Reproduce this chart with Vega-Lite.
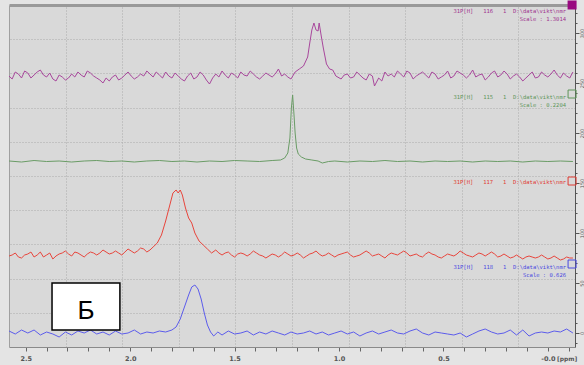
{
"$schema": "https://vega.github.io/schema/vega-lite/v6.json",
"width": 566, "height": 342,
"autosize": {"type": "none"},
"padding": {"left": 9, "top": 5, "right": 9, "bottom": 18},
"background": "#e4e4e4",
"config": {"view": {"fill": "#d9d9d9", "stroke": null}},
"resolve": {"axis": {"x": "independent", "y": "independent"}},
"layer": [
{
"data": {"values": [
{"exp":"116","ppm":2.58,"i":257},{"exp":"116","ppm":2.55,"i":261},{"exp":"116","ppm":2.52,"i":255},{"exp":"116","ppm":2.49,"i":260},{"exp":"116","ppm":2.46,"i":258},{"exp":"116","ppm":2.43,"i":263},{"exp":"116","ppm":2.40,"i":256},{"exp":"116","ppm":2.37,"i":254},{"exp":"116","ppm":2.34,"i":258},{"exp":"116","ppm":2.31,"i":253},{"exp":"116","ppm":2.28,"i":259},{"exp":"116","ppm":2.25,"i":261},{"exp":"116","ppm":2.22,"i":256},{"exp":"116","ppm":2.19,"i":260},{"exp":"116","ppm":2.16,"i":255},{"exp":"116","ppm":2.13,"i":250},{"exp":"116","ppm":2.10,"i":252},{"exp":"116","ppm":2.07,"i":258},{"exp":"116","ppm":2.04,"i":255},{"exp":"116","ppm":2.01,"i":261},{"exp":"116","ppm":1.98,"i":254},{"exp":"116","ppm":1.95,"i":259},{"exp":"116","ppm":1.92,"i":262},{"exp":"116","ppm":1.89,"i":256},{"exp":"116","ppm":1.86,"i":258},{"exp":"116","ppm":1.83,"i":261},{"exp":"116","ppm":1.80,"i":255},{"exp":"116","ppm":1.77,"i":257},{"exp":"116","ppm":1.74,"i":252},{"exp":"116","ppm":1.71,"i":260},{"exp":"116","ppm":1.68,"i":256},{"exp":"116","ppm":1.65,"i":258},{"exp":"116","ppm":1.62,"i":249},{"exp":"116","ppm":1.59,"i":259},{"exp":"116","ppm":1.56,"i":262},{"exp":"116","ppm":1.53,"i":255},{"exp":"116","ppm":1.50,"i":258},{"exp":"116","ppm":1.47,"i":261},{"exp":"116","ppm":1.44,"i":257},{"exp":"116","ppm":1.41,"i":259},{"exp":"116","ppm":1.38,"i":254},{"exp":"116","ppm":1.35,"i":260},{"exp":"116","ppm":1.32,"i":256},{"exp":"116","ppm":1.29,"i":264},{"exp":"116","ppm":1.26,"i":259},{"exp":"116","ppm":1.23,"i":254},{"exp":"116","ppm":1.21,"i":261},{"exp":"116","ppm":1.19,"i":264},{"exp":"116","ppm":1.17,"i":267},{"exp":"116","ppm":1.15,"i":276},{"exp":"116","ppm":1.14,"i":290},{"exp":"116","ppm":1.13,"i":303},{"exp":"116","ppm":1.12,"i":310},{"exp":"116","ppm":1.11,"i":303},{"exp":"116","ppm":1.10,"i":302},{"exp":"116","ppm":1.095,"i":310},{"exp":"116","ppm":1.085,"i":297},{"exp":"116","ppm":1.075,"i":285},{"exp":"116","ppm":1.06,"i":269},{"exp":"116","ppm":1.045,"i":264},{"exp":"116","ppm":1.03,"i":263},{"exp":"116","ppm":1.015,"i":257},{"exp":"116","ppm":0.99,"i":254},{"exp":"116","ppm":0.96,"i":259},{"exp":"116","ppm":0.93,"i":256},{"exp":"116","ppm":0.90,"i":258},{"exp":"116","ppm":0.87,"i":253},{"exp":"116","ppm":0.84,"i":257},{"exp":"116","ppm":0.83,"i":247},{"exp":"116","ppm":0.81,"i":255},{"exp":"116","ppm":0.78,"i":261},{"exp":"116","ppm":0.75,"i":259},{"exp":"116","ppm":0.72,"i":262},{"exp":"116","ppm":0.69,"i":256},{"exp":"116","ppm":0.66,"i":260},{"exp":"116","ppm":0.63,"i":257},{"exp":"116","ppm":0.60,"i":261},{"exp":"116","ppm":0.57,"i":255},{"exp":"116","ppm":0.54,"i":259},{"exp":"116","ppm":0.51,"i":256},{"exp":"116","ppm":0.48,"i":262},{"exp":"116","ppm":0.45,"i":257},{"exp":"116","ppm":0.42,"i":260},{"exp":"116","ppm":0.39,"i":255},{"exp":"116","ppm":0.36,"i":263},{"exp":"116","ppm":0.33,"i":258},{"exp":"116","ppm":0.30,"i":253},{"exp":"116","ppm":0.27,"i":260},{"exp":"116","ppm":0.24,"i":256},{"exp":"116","ppm":0.21,"i":262},{"exp":"116","ppm":0.18,"i":254},{"exp":"116","ppm":0.15,"i":259},{"exp":"116","ppm":0.12,"i":252},{"exp":"116","ppm":0.09,"i":258},{"exp":"116","ppm":0.06,"i":255},{"exp":"116","ppm":0.03,"i":261},{"exp":"116","ppm":0.00,"i":256},{"exp":"116","ppm":-0.03,"i":263},{"exp":"116","ppm":-0.06,"i":255},{"exp":"116","ppm":-0.09,"i":257},{"exp":"116","ppm":-0.12,"i":261},
{"exp":"116","ppm":2.565,"i":254},{"exp":"116","ppm":2.535,"i":259},{"exp":"116","ppm":2.505,"i":262},{"exp":"116","ppm":2.475,"i":255},{"exp":"116","ppm":2.445,"i":261},{"exp":"116","ppm":2.415,"i":258},{"exp":"116","ppm":2.385,"i":260},{"exp":"116","ppm":2.355,"i":252},{"exp":"116","ppm":2.325,"i":256},{"exp":"116","ppm":2.295,"i":255},{"exp":"116","ppm":2.265,"i":256},{"exp":"116","ppm":2.235,"i":258},{"exp":"116","ppm":2.205,"i":262},{"exp":"116","ppm":2.175,"i":257},{"exp":"116","ppm":2.145,"i":253},{"exp":"116","ppm":2.115,"i":255},{"exp":"116","ppm":2.085,"i":256},{"exp":"116","ppm":2.055,"i":253},{"exp":"116","ppm":2.025,"i":258},{"exp":"116","ppm":1.995,"i":257},{"exp":"116","ppm":1.965,"i":256},{"exp":"116","ppm":1.935,"i":257},{"exp":"116","ppm":1.905,"i":259},{"exp":"116","ppm":1.875,"i":261},{"exp":"116","ppm":1.845,"i":255},{"exp":"116","ppm":1.815,"i":257},{"exp":"116","ppm":1.785,"i":260},{"exp":"116","ppm":1.755,"i":254},{"exp":"116","ppm":1.725,"i":257},{"exp":"116","ppm":1.695,"i":254},{"exp":"116","ppm":1.665,"i":261},{"exp":"116","ppm":1.635,"i":253},{"exp":"116","ppm":1.605,"i":255},{"exp":"116","ppm":1.575,"i":256},{"exp":"116","ppm":1.545,"i":258},{"exp":"116","ppm":1.515,"i":260},{"exp":"116","ppm":1.485,"i":255},{"exp":"116","ppm":1.455,"i":258},{"exp":"116","ppm":1.425,"i":262},{"exp":"116","ppm":1.395,"i":256},{"exp":"116","ppm":1.365,"i":257},{"exp":"116","ppm":1.335,"i":258},{"exp":"116","ppm":1.305,"i":259},{"exp":"116","ppm":1.275,"i":257},{"exp":"116","ppm":1.245,"i":256},
{"exp":"116","ppm":0.975,"i":258},{"exp":"116","ppm":0.945,"i":255},{"exp":"116","ppm":0.915,"i":261},{"exp":"116","ppm":0.885,"i":255},{"exp":"116","ppm":0.855,"i":259},{"exp":"116","ppm":0.795,"i":252},{"exp":"116","ppm":0.765,"i":257},{"exp":"116","ppm":0.735,"i":256},{"exp":"116","ppm":0.705,"i":259},{"exp":"116","ppm":0.675,"i":262},{"exp":"116","ppm":0.645,"i":254},{"exp":"116","ppm":0.615,"i":259},{"exp":"116","ppm":0.585,"i":258},{"exp":"116","ppm":0.555,"i":261},{"exp":"116","ppm":0.525,"i":254},{"exp":"116","ppm":0.495,"i":258},{"exp":"116","ppm":0.465,"i":255},{"exp":"116","ppm":0.435,"i":262},{"exp":"116","ppm":0.405,"i":258},{"exp":"116","ppm":0.375,"i":258},{"exp":"116","ppm":0.345,"i":256},{"exp":"116","ppm":0.315,"i":259},{"exp":"116","ppm":0.285,"i":256},{"exp":"116","ppm":0.255,"i":262},{"exp":"116","ppm":0.225,"i":258},{"exp":"116","ppm":0.195,"i":259},{"exp":"116","ppm":0.165,"i":257},{"exp":"116","ppm":0.135,"i":256},{"exp":"116","ppm":0.105,"i":255},{"exp":"116","ppm":0.075,"i":261},{"exp":"116","ppm":0.045,"i":256},{"exp":"116","ppm":0.015,"i":258},{"exp":"116","ppm":-0.015,"i":259},{"exp":"116","ppm":-0.045,"i":258},{"exp":"116","ppm":-0.075,"i":260},{"exp":"116","ppm":-0.105,"i":255},
{"exp":"115","ppm":2.58,"i":172},{"exp":"115","ppm":2.52,"i":171},{"exp":"115","ppm":2.46,"i":172.5},{"exp":"115","ppm":2.40,"i":171.5},{"exp":"115","ppm":2.34,"i":172},{"exp":"115","ppm":2.28,"i":171},{"exp":"115","ppm":2.22,"i":172},{"exp":"115","ppm":2.16,"i":172.5},{"exp":"115","ppm":2.10,"i":171.5},{"exp":"115","ppm":2.04,"i":172},{"exp":"115","ppm":1.98,"i":171},{"exp":"115","ppm":1.92,"i":172},{"exp":"115","ppm":1.86,"i":172.5},{"exp":"115","ppm":1.80,"i":171.5},{"exp":"115","ppm":1.74,"i":172},{"exp":"115","ppm":1.68,"i":171},{"exp":"115","ppm":1.62,"i":172},{"exp":"115","ppm":1.56,"i":171.5},{"exp":"115","ppm":1.50,"i":172.5},{"exp":"115","ppm":1.44,"i":172},{"exp":"115","ppm":1.38,"i":171.5},{"exp":"115","ppm":1.32,"i":172.5},{"exp":"115","ppm":1.28,"i":173},{"exp":"115","ppm":1.26,"i":175},{"exp":"115","ppm":1.245,"i":180},{"exp":"115","ppm":1.235,"i":195},{"exp":"115","ppm":1.228,"i":225},{"exp":"115","ppm":1.222,"i":238},{"exp":"115","ppm":1.216,"i":220},{"exp":"115","ppm":1.21,"i":200},{"exp":"115","ppm":1.203,"i":185},{"exp":"115","ppm":1.195,"i":179},{"exp":"115","ppm":1.18,"i":176},{"exp":"115","ppm":1.16,"i":174},{"exp":"115","ppm":1.13,"i":173},{"exp":"115","ppm":1.10,"i":172},{"exp":"115","ppm":1.08,"i":170},{"exp":"115","ppm":1.05,"i":171.5},{"exp":"115","ppm":1.02,"i":172},{"exp":"115","ppm":0.96,"i":171},{"exp":"115","ppm":0.90,"i":172},{"exp":"115","ppm":0.84,"i":171.5},{"exp":"115","ppm":0.78,"i":172.5},{"exp":"115","ppm":0.72,"i":171.5},{"exp":"115","ppm":0.66,"i":172},{"exp":"115","ppm":0.60,"i":171},{"exp":"115","ppm":0.54,"i":172},{"exp":"115","ppm":0.48,"i":171.5},{"exp":"115","ppm":0.42,"i":172},{"exp":"115","ppm":0.36,"i":171},{"exp":"115","ppm":0.30,"i":172},{"exp":"115","ppm":0.24,"i":171.5},{"exp":"115","ppm":0.18,"i":172},{"exp":"115","ppm":0.12,"i":171},{"exp":"115","ppm":0.06,"i":172},{"exp":"115","ppm":0.00,"i":171.5},{"exp":"115","ppm":-0.06,"i":172},{"exp":"115","ppm":-0.12,"i":171.5},
{"exp":"117","ppm":2.58,"i":77},{"exp":"117","ppm":2.55,"i":80},{"exp":"117","ppm":2.52,"i":75},{"exp":"117","ppm":2.49,"i":79},{"exp":"117","ppm":2.46,"i":76},{"exp":"117","ppm":2.43,"i":81},{"exp":"117","ppm":2.40,"i":78},{"exp":"117","ppm":2.37,"i":74},{"exp":"117","ppm":2.34,"i":79},{"exp":"117","ppm":2.31,"i":82},{"exp":"117","ppm":2.28,"i":77},{"exp":"117","ppm":2.25,"i":80},{"exp":"117","ppm":2.22,"i":76},{"exp":"117","ppm":2.19,"i":81},{"exp":"117","ppm":2.16,"i":78},{"exp":"117","ppm":2.13,"i":83},{"exp":"117","ppm":2.10,"i":79},{"exp":"117","ppm":2.07,"i":82},{"exp":"117","ppm":2.04,"i":78},{"exp":"117","ppm":2.01,"i":84},{"exp":"117","ppm":1.98,"i":80},{"exp":"117","ppm":1.95,"i":85},{"exp":"117","ppm":1.92,"i":81},{"exp":"117","ppm":1.89,"i":86},{"exp":"117","ppm":1.87,"i":90},{"exp":"117","ppm":1.85,"i":98},{"exp":"117","ppm":1.83,"i":112},{"exp":"117","ppm":1.81,"i":128},{"exp":"117","ppm":1.795,"i":140},{"exp":"117","ppm":1.78,"i":143},{"exp":"117","ppm":1.77,"i":140},{"exp":"117","ppm":1.76,"i":143},{"exp":"117","ppm":1.75,"i":138},{"exp":"117","ppm":1.735,"i":125},{"exp":"117","ppm":1.72,"i":115},{"exp":"117","ppm":1.705,"i":110},{"exp":"117","ppm":1.69,"i":100},{"exp":"117","ppm":1.67,"i":92},{"exp":"117","ppm":1.65,"i":88},{"exp":"117","ppm":1.63,"i":84},{"exp":"117","ppm":1.61,"i":80},{"exp":"117","ppm":1.59,"i":83},{"exp":"117","ppm":1.56,"i":78},{"exp":"117","ppm":1.53,"i":81},{"exp":"117","ppm":1.50,"i":76},{"exp":"117","ppm":1.47,"i":80},{"exp":"117","ppm":1.44,"i":77},{"exp":"117","ppm":1.41,"i":82},{"exp":"117","ppm":1.38,"i":78},{"exp":"117","ppm":1.35,"i":75},{"exp":"117","ppm":1.32,"i":79},{"exp":"117","ppm":1.29,"i":76},{"exp":"117","ppm":1.26,"i":81},{"exp":"117","ppm":1.23,"i":77},{"exp":"117","ppm":1.20,"i":80},{"exp":"117","ppm":1.17,"i":75},{"exp":"117","ppm":1.14,"i":79},{"exp":"117","ppm":1.11,"i":82},{"exp":"117","ppm":1.08,"i":77},{"exp":"117","ppm":1.05,"i":80},{"exp":"117","ppm":1.02,"i":76},{"exp":"117","ppm":0.99,"i":79},{"exp":"117","ppm":0.96,"i":81},{"exp":"117","ppm":0.93,"i":76},{"exp":"117","ppm":0.90,"i":78},{"exp":"117","ppm":0.87,"i":82},{"exp":"117","ppm":0.84,"i":77},{"exp":"117","ppm":0.81,"i":79},{"exp":"117","ppm":0.78,"i":75},{"exp":"117","ppm":0.75,"i":80},{"exp":"117","ppm":0.72,"i":78},{"exp":"117","ppm":0.69,"i":82},{"exp":"117","ppm":0.66,"i":77},{"exp":"117","ppm":0.63,"i":79},{"exp":"117","ppm":0.60,"i":76},{"exp":"117","ppm":0.57,"i":81},{"exp":"117","ppm":0.54,"i":78},{"exp":"117","ppm":0.51,"i":75},{"exp":"117","ppm":0.48,"i":79},{"exp":"117","ppm":0.45,"i":77},{"exp":"117","ppm":0.42,"i":82},{"exp":"117","ppm":0.39,"i":78},{"exp":"117","ppm":0.36,"i":76},{"exp":"117","ppm":0.33,"i":80},{"exp":"117","ppm":0.30,"i":77},{"exp":"117","ppm":0.27,"i":81},{"exp":"117","ppm":0.24,"i":76},{"exp":"117","ppm":0.21,"i":79},{"exp":"117","ppm":0.18,"i":75},{"exp":"117","ppm":0.15,"i":78},{"exp":"117","ppm":0.12,"i":74},{"exp":"117","ppm":0.09,"i":77},{"exp":"117","ppm":0.06,"i":75},{"exp":"117","ppm":0.03,"i":78},{"exp":"117","ppm":0.00,"i":74},{"exp":"117","ppm":-0.03,"i":77},{"exp":"117","ppm":-0.06,"i":73},{"exp":"117","ppm":-0.09,"i":76},{"exp":"117","ppm":-0.12,"i":75},
{"exp":"117","ppm":2.565,"i":78},{"exp":"117","ppm":2.535,"i":76},{"exp":"117","ppm":2.505,"i":78},{"exp":"117","ppm":2.475,"i":81},{"exp":"117","ppm":2.445,"i":78},{"exp":"117","ppm":2.415,"i":76},{"exp":"117","ppm":2.385,"i":80},{"exp":"117","ppm":2.355,"i":77},{"exp":"117","ppm":2.325,"i":80},{"exp":"117","ppm":2.295,"i":79},{"exp":"117","ppm":2.265,"i":81},{"exp":"117","ppm":2.235,"i":78},{"exp":"117","ppm":2.205,"i":79},{"exp":"117","ppm":2.175,"i":80},{"exp":"117","ppm":2.145,"i":80},{"exp":"117","ppm":2.115,"i":81},{"exp":"117","ppm":2.085,"i":80},{"exp":"117","ppm":2.055,"i":80},{"exp":"117","ppm":2.025,"i":81},{"exp":"117","ppm":1.995,"i":82},{"exp":"117","ppm":1.965,"i":82},{"exp":"117","ppm":1.935,"i":84},{"exp":"117","ppm":1.905,"i":83},
{"exp":"117","ppm":1.575,"i":80},{"exp":"117","ppm":1.545,"i":80},{"exp":"117","ppm":1.515,"i":78},{"exp":"117","ppm":1.485,"i":79},{"exp":"117","ppm":1.455,"i":79},{"exp":"117","ppm":1.425,"i":79},{"exp":"117","ppm":1.395,"i":80},{"exp":"117","ppm":1.365,"i":77},{"exp":"117","ppm":1.335,"i":77},{"exp":"117","ppm":1.305,"i":78},{"exp":"117","ppm":1.275,"i":78},{"exp":"117","ppm":1.245,"i":79},{"exp":"117","ppm":1.215,"i":78},{"exp":"117","ppm":1.185,"i":78},{"exp":"117","ppm":1.155,"i":77},{"exp":"117","ppm":1.125,"i":80},{"exp":"117","ppm":1.095,"i":79},{"exp":"117","ppm":1.065,"i":78},{"exp":"117","ppm":1.035,"i":78},{"exp":"117","ppm":1.005,"i":78},{"exp":"117","ppm":0.975,"i":80},{"exp":"117","ppm":0.945,"i":78},{"exp":"117","ppm":0.915,"i":77},{"exp":"117","ppm":0.885,"i":80},{"exp":"117","ppm":0.855,"i":80},{"exp":"117","ppm":0.825,"i":78},{"exp":"117","ppm":0.795,"i":77},{"exp":"117","ppm":0.765,"i":78},{"exp":"117","ppm":0.735,"i":79},{"exp":"117","ppm":0.705,"i":80},{"exp":"117","ppm":0.675,"i":80},{"exp":"117","ppm":0.645,"i":78},{"exp":"117","ppm":0.615,"i":77},{"exp":"117","ppm":0.585,"i":79},{"exp":"117","ppm":0.555,"i":79},{"exp":"117","ppm":0.525,"i":76},{"exp":"117","ppm":0.495,"i":77},{"exp":"117","ppm":0.465,"i":78},{"exp":"117","ppm":0.435,"i":79},{"exp":"117","ppm":0.405,"i":80},{"exp":"117","ppm":0.375,"i":77},{"exp":"117","ppm":0.345,"i":78},{"exp":"117","ppm":0.315,"i":79},{"exp":"117","ppm":0.285,"i":79},{"exp":"117","ppm":0.255,"i":79},{"exp":"117","ppm":0.225,"i":77},{"exp":"117","ppm":0.195,"i":77},{"exp":"117","ppm":0.165,"i":76},{"exp":"117","ppm":0.135,"i":76},{"exp":"117","ppm":0.105,"i":76},{"exp":"117","ppm":0.075,"i":76},{"exp":"117","ppm":0.045,"i":76},{"exp":"117","ppm":0.015,"i":76},{"exp":"117","ppm":-0.015,"i":75},{"exp":"117","ppm":-0.045,"i":75},{"exp":"117","ppm":-0.075,"i":74},{"exp":"117","ppm":-0.105,"i":75},
{"exp":"118","ppm":2.58,"i":2},{"exp":"118","ppm":2.55,"i":-1},{"exp":"118","ppm":2.52,"i":3},{"exp":"118","ppm":2.49,"i":0},{"exp":"118","ppm":2.46,"i":3},{"exp":"118","ppm":2.43,"i":-2},{"exp":"118","ppm":2.40,"i":1},{"exp":"118","ppm":2.37,"i":-1},{"exp":"118","ppm":2.34,"i":-4},{"exp":"118","ppm":2.31,"i":1},{"exp":"118","ppm":2.28,"i":-2},{"exp":"118","ppm":2.25,"i":2},{"exp":"118","ppm":2.22,"i":0},{"exp":"118","ppm":2.19,"i":3},{"exp":"118","ppm":2.16,"i":-1},{"exp":"118","ppm":2.13,"i":1},{"exp":"118","ppm":2.10,"i":-2},{"exp":"118","ppm":2.07,"i":2},{"exp":"118","ppm":2.04,"i":-1},{"exp":"118","ppm":2.01,"i":0},{"exp":"118","ppm":1.98,"i":3},{"exp":"118","ppm":1.95,"i":-1},{"exp":"118","ppm":1.92,"i":1},{"exp":"118","ppm":1.89,"i":0},{"exp":"118","ppm":1.86,"i":2},{"exp":"118","ppm":1.83,"i":1},{"exp":"118","ppm":1.80,"i":3},{"exp":"118","ppm":1.78,"i":6},{"exp":"118","ppm":1.76,"i":14},{"exp":"118","ppm":1.74,"i":26},{"exp":"118","ppm":1.72,"i":38},{"exp":"118","ppm":1.705,"i":46},{"exp":"118","ppm":1.69,"i":48},{"exp":"118","ppm":1.675,"i":44},{"exp":"118","ppm":1.66,"i":34},{"exp":"118","ppm":1.645,"i":20},{"exp":"118","ppm":1.63,"i":8},{"exp":"118","ppm":1.615,"i":1},{"exp":"118","ppm":1.60,"i":-3},{"exp":"118","ppm":1.58,"i":1},{"exp":"118","ppm":1.56,"i":-2},{"exp":"118","ppm":1.53,"i":2},{"exp":"118","ppm":1.50,"i":-1},{"exp":"118","ppm":1.47,"i":0},{"exp":"118","ppm":1.44,"i":2},{"exp":"118","ppm":1.41,"i":-2},{"exp":"118","ppm":1.38,"i":1},{"exp":"118","ppm":1.35,"i":-1},{"exp":"118","ppm":1.32,"i":2},{"exp":"118","ppm":1.29,"i":0},{"exp":"118","ppm":1.26,"i":-2},{"exp":"118","ppm":1.23,"i":1},{"exp":"118","ppm":1.20,"i":-1},{"exp":"118","ppm":1.17,"i":0},{"exp":"118","ppm":1.14,"i":2},{"exp":"118","ppm":1.11,"i":-1},{"exp":"118","ppm":1.08,"i":1},{"exp":"118","ppm":1.05,"i":-2},{"exp":"118","ppm":1.02,"i":0},{"exp":"118","ppm":0.99,"i":2},{"exp":"118","ppm":0.96,"i":-1},{"exp":"118","ppm":0.93,"i":1},{"exp":"118","ppm":0.90,"i":-3},{"exp":"118","ppm":0.87,"i":0},{"exp":"118","ppm":0.84,"i":2},{"exp":"118","ppm":0.81,"i":-1},{"exp":"118","ppm":0.78,"i":1},{"exp":"118","ppm":0.75,"i":3},{"exp":"118","ppm":0.72,"i":0},{"exp":"118","ppm":0.69,"i":-1},{"exp":"118","ppm":0.66,"i":2},{"exp":"118","ppm":0.63,"i":4},{"exp":"118","ppm":0.60,"i":0},{"exp":"118","ppm":0.57,"i":-2},{"exp":"118","ppm":0.54,"i":1},{"exp":"118","ppm":0.51,"i":0},{"exp":"118","ppm":0.48,"i":-1},{"exp":"118","ppm":0.45,"i":-2},{"exp":"118","ppm":0.42,"i":0},{"exp":"118","ppm":0.39,"i":-4},{"exp":"118","ppm":0.36,"i":-1},{"exp":"118","ppm":0.33,"i":2},{"exp":"118","ppm":0.30,"i":4},{"exp":"118","ppm":0.27,"i":1},{"exp":"118","ppm":0.24,"i":-1},{"exp":"118","ppm":0.21,"i":0},{"exp":"118","ppm":0.18,"i":3},{"exp":"118","ppm":0.15,"i":-2},{"exp":"118","ppm":0.12,"i":3},{"exp":"118","ppm":0.09,"i":-3},{"exp":"118","ppm":0.06,"i":0},{"exp":"118","ppm":0.03,"i":1},{"exp":"118","ppm":0.00,"i":0},{"exp":"118","ppm":-0.03,"i":2},{"exp":"118","ppm":-0.06,"i":1},{"exp":"118","ppm":-0.09,"i":4},{"exp":"118","ppm":-0.12,"i":0}
]},
"mark": {"type": "line", "strokeWidth": 1},
"encoding": {
"x": {"field": "ppm", "type": "quantitative",
"scale": {"domain": [-0.13, 2.58], "reverse": true, "nice": false, "zero": false},
"axis": {"orient": "bottom", "title": null, "grid": false,
"values": [2.5,2.4,2.3,2.2,2.1,2,1.9,1.8,1.7,1.6,1.5,1.4,1.3,1.2,1.1,1,0.9,0.8,0.7,0.6,0.5,0.4,0.3,0.2,0.1,0,-0.1],
"labelExpr": "datum.value == 0 ? '-0.0' : (indexof(['2.5','2','1.5','1','0.5'], '' + datum.value) >= 0 ? format(datum.value, '.1f') : '')",
"labelFont": "DejaVu Sans", "labelFontSize": 6.5, "labelFontWeight": "bold", "labelColor": "#555555",
"labelFlush": false, "labelOverlap": false, "labelPadding": 4,
"tickColor": "#666666", "tickSize": 4, "domainColor": "#8a8a8a"}},
"y": {"field": "i", "type": "quantitative",
"scale": {"domain": [-14, 328], "nice": false, "zero": false},
"axis": {"orient": "right", "title": null, "grid": false,
"values": [-10,0,10,20,30,40,50,60,70,80,90,100,110,120,130,140,150,160,170,180,190,200,210,220,230,240,250,260,270,280,290,300,310,320],
"labelExpr": "datum.value % 50 == 0 ? '' + datum.value : ''",
"labelAngle": -90, "labelFont": "DejaVu Sans", "labelFontSize": 5, "labelColor": "#555555",
"labelPadding": 0, "labelOverlap": false, "labelFlush": false,
"tickColor": "#555555", "tickSize": {"condition": {"test": "datum.value % 50 == 0", "value": 4}, "value": 2},
"domainColor": "#555555"}},
"color": {"field": "exp", "type": "nominal",
"scale": {"domain": ["116","115","117","118"], "range": ["#a8479c","#6a9c66","#e8453c","#5c5cec"]},
"legend": null}
}
},
{
"data": {"values": [{"label": "Б"}]},
"mark": {"type": "rect", "fill": "white", "stroke": "black", "strokeWidth": 1.5},
"encoding": {
"x": {"datum": 2.374, "type": "quantitative",
"axis": {"orient": "top", "title": null, "grid": true, "gridColor": "#ababab", "gridDash": [1,2],
"values": [2.309,2.038,1.767,1.496,1.225,0.954,0.683,0.412,0.141],
"labels": false, "ticks": false, "domain": true, "domainColor": "#9a9a9a", "domainWidth": 3}},
"x2": {"datum": 2.049},
"y": {"datum": 50, "type": "quantitative",
"axis": {"orient": "left", "title": null, "grid": true, "gridColor": "#ababab", "gridDash": [1,2],
"values": [20.2,54.4,88.6,122.8,157,191.2,225.4,259.6,293.8],
"labels": false, "ticks": false, "domain": true, "domainColor": "#a0a0a0", "domainWidth": 1}},
"y2": {"datum": 3}
}
},
{
"data": {"values": [{"label": "Б"}]},
"mark": {"type": "text", "font": "Liberation Sans", "fontSize": 26, "color": "black", "baseline": "middle", "align": "center"},
"encoding": {
"x": {"datum": 2.211, "type": "quantitative", "axis": null},
"y": {"datum": 22, "type": "quantitative", "axis": null},
"text": {"field": "label"}
}
},
{
"data": {"values": [{}]},
"mark": {"type": "text", "align": "right", "baseline": "top", "font": "DejaVu Sans Mono", "fontSize": 5.5, "lineHeight": 7.5, "color": "#a0338f",
"text": ["31P[H]\u00a0\u00a0\u00a0116\u00a0\u00a0\u00a01\u00a0\u00a0D:\\data\\vikt\\nmr", "Scale : 1.3014"]},
"encoding": {"x": {"datum": -0.087, "type": "quantitative", "axis": null}, "y": {"datum": 324, "type": "quantitative", "axis": null}}
},
{
"data": {"values": [{}]},
"mark": {"type": "text", "align": "right", "baseline": "top", "font": "DejaVu Sans Mono", "fontSize": 5.5, "lineHeight": 7.5, "color": "#5e965a",
"text": ["31P[H]\u00a0\u00a0\u00a0115\u00a0\u00a0\u00a01\u00a0\u00a0D:\\data\\vikt\\nmr", "Scale : 0.2204"]},
"encoding": {"x": {"datum": -0.087, "type": "quantitative", "axis": null}, "y": {"datum": 238, "type": "quantitative", "axis": null}}
},
{
"data": {"values": [{}]},
"mark": {"type": "text", "align": "right", "baseline": "top", "font": "DejaVu Sans Mono", "fontSize": 5.5, "lineHeight": 7.5, "color": "#e03a32",
"text": ["31P[H]\u00a0\u00a0\u00a0117\u00a0\u00a0\u00a01\u00a0\u00a0D:\\data\\vikt\\nmr"]},
"encoding": {"x": {"datum": -0.087, "type": "quantitative", "axis": null}, "y": {"datum": 153, "type": "quantitative", "axis": null}}
},
{
"data": {"values": [{}]},
"mark": {"type": "text", "align": "right", "baseline": "top", "font": "DejaVu Sans Mono", "fontSize": 5.5, "lineHeight": 7.5, "color": "#4a4ae0",
"text": ["31P[H]\u00a0\u00a0\u00a0118\u00a0\u00a0\u00a01\u00a0\u00a0D:\\data\\vikt\\nmr", "Scale : 0.626"]},
"encoding": {"x": {"datum": -0.087, "type": "quantitative", "axis": null}, "y": {"datum": 68, "type": "quantitative", "axis": null}}
},
{
"data": {"values": [{}]},
"mark": {"type": "point", "shape": "square", "size": 81, "filled": true, "color": "#990a80", "opacity": 1},
"encoding": {"x": {"datum": -0.116, "type": "quantitative", "axis": null}, "y": {"datum": 328, "type": "quantitative", "axis": null}}
},
{
"data": {"values": [{}]},
"mark": {"type": "point", "shape": "square", "size": 64, "filled": false, "stroke": "#5e965a", "strokeWidth": 1, "opacity": 1},
"encoding": {"x": {"datum": -0.116, "type": "quantitative", "axis": null}, "y": {"datum": 239, "type": "quantitative", "axis": null}}
},
{
"data": {"values": [{}]},
"mark": {"type": "point", "shape": "square", "size": 64, "filled": false, "stroke": "#e03a32", "strokeWidth": 1, "opacity": 1},
"encoding": {"x": {"datum": -0.116, "type": "quantitative", "axis": null}, "y": {"datum": 152, "type": "quantitative", "axis": null}}
},
{
"data": {"values": [{}]},
"mark": {"type": "point", "shape": "square", "size": 64, "filled": false, "stroke": "#4a4ae0", "strokeWidth": 1, "opacity": 1},
"encoding": {"x": {"datum": -0.116, "type": "quantitative", "axis": null}, "y": {"datum": 69, "type": "quantitative", "axis": null}}
},
{
"data": {"values": [{"unit": "[ppm]"}]},
"mark": {"type": "text", "font": "DejaVu Sans", "fontSize": 6, "fontWeight": "bold", "color": "#555555", "baseline": "middle", "align": "left", "dy": 11.5},
"encoding": {
"x": {"datum": -0.044, "type": "quantitative", "axis": null},
"y": {"datum": -14, "type": "quantitative", "axis": null},
"text": {"field": "unit"}
}
}
]
}
